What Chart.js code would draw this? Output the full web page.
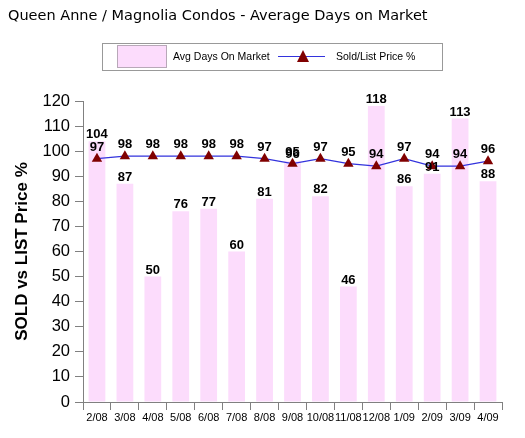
<!DOCTYPE html>
<html lang="en">
<head>
<meta charset="UTF-8">
<title>Queen Anne / Magnolia Condos</title>
<script src="https://cdn.jsdelivr.net/npm/chart.js@4.4.1/dist/chart.umd.min.js"></script>
<style>
  body { margin: 0; background: #fff; }
  #wrap { width: 525px; height: 438px; position: relative; }
</style>
</head>
<body>
<div id="wrap"><canvas id="mychart"></canvas></div>
<script>
var months = ['2/08', '3/08', '4/08', '5/08', '6/08', '7/08', '8/08', '9/08', '10/08', '11/08', '12/08', '1/09', '2/09', '3/09', '4/09'];
var avgDays = [104, 87, 50, 76, 77, 60, 81, 96, 82, 46, 118, 86, 91, 113, 88];
var soldList = [97, 98, 98, 98, 98, 98, 97, 95, 97, 95, 94, 97, 94, 94, 96];

var chartTitle = 'Queen Anne / Magnolia Condos - Average Days on Market';
var barColor = '#fcdcfc';
var lineColor = '#3333dd';
var markColor = '#800000';

// title, legend box and value labels
var extras = {
  id: 'extras',
  afterDatasetsDraw: function (chart) {
    var c = chart.ctx;
    c.save();
    c.fillStyle = '#000';
    c.font = 'bold 13px "Liberation Sans", Arial, sans-serif';
    c.textAlign = 'center';
    c.textBaseline = 'alphabetic';
    chart.getDatasetMeta(0).data.forEach(function (el, i) {
      c.fillText(avgDays[i], el.x, el.y - 3);
    });
    chart.getDatasetMeta(1).data.forEach(function (el, i) {
      c.fillText(soldList[i], el.x, el.y - 8);
    });
    c.restore();
  },
  afterDraw: function (chart) {
    var c = chart.ctx;
    c.save();
    c.fillStyle = '#000';
    c.font = '14.5px "DejaVu Sans", sans-serif';
    c.textBaseline = 'middle';
    c.textAlign = 'left';
    c.fillText(chartTitle, 8, 16);

    // legend
    c.strokeStyle = '#999';
    c.lineWidth = 1;
    c.strokeRect(102.5, 43.5, 340, 27);
    c.fillStyle = barColor;
    c.fillRect(117, 45, 49, 22);
    c.strokeStyle = '#b8a8b8';
    c.strokeRect(117.5, 45.5, 49, 22);
    c.fillStyle = '#000';
    c.font = '10.5px "Liberation Sans", Arial, sans-serif';
    c.fillText('Avg Days On Market', 173, 57);
    c.fillText('Sold/List Price %', 336, 57);
    c.strokeStyle = lineColor;
    c.beginPath();
    c.moveTo(278, 56.5);
    c.lineTo(325, 56.5);
    c.stroke();
    c.fillStyle = markColor;
    c.beginPath();
    c.moveTo(303, 50);
    c.lineTo(309, 62);
    c.lineTo(297, 62);
    c.closePath();
    c.fill();
    c.restore();
  }
};

var ctx = document.getElementById('mychart');
var mychart = new Chart(ctx, {
  data: {
    labels: months,
    datasets: [{
      type: 'bar',
      label: 'Avg Days On Market',
      data: avgDays,
      backgroundColor: barColor,
      borderWidth: 0,
      categoryPercentage: 1,
      barPercentage: 0.6,
      order: 1
    }, {
      type: 'line',
      label: 'Sold/List Price %',
      data: soldList,
      borderColor: lineColor,
      borderWidth: 1.3,
      tension: 0,
      pointStyle: 'triangle',
      pointRadius: 6,
      pointBackgroundColor: markColor,
      pointBorderColor: markColor,
      pointBorderWidth: 0,
      order: 0
    }]
  },
  options: {
    responsive: true,
    maintainAspectRatio: false,
    animation: false,
    layout: { padding: { top: 101, right: 23, bottom: 0, left: 0 } },
    plugins: {
      legend: { display: false },
      tooltip: { enabled: false }
    },
    scales: {
      x: {
        grid: { drawOnChartArea: false, tickLength: 8, color: '#808080', offset: true },
        border: { color: '#808080' },
        ticks: { color: '#000', padding: 1, maxRotation: 0, autoSkip: false,
          font: { family: '"Liberation Sans", Arial, sans-serif', size: 11 } },
        afterFit: function (s) { s.height = 36; }
      },
      y: {
        min: 0,
        max: 120,
        ticks: { stepSize: 10, color: '#000', padding: 5,
          font: { family: '"Liberation Sans", Arial, sans-serif', size: 16.5 } },
        grid: { drawOnChartArea: false, tickLength: 8, color: '#808080' },
        border: { color: '#808080' },
        title: {
          display: true,
          text: 'SOLD vs LIST Price %',
          color: '#000',
          padding: { top: 12, bottom: 0 },
          font: { family: '"Liberation Sans", Arial, sans-serif', size: 17, weight: 'bold' }
        },
        afterFit: function (s) { s.width = 83; }
      }
    }
  },
  plugins: [extras]
});
</script>
</body>
</html>
